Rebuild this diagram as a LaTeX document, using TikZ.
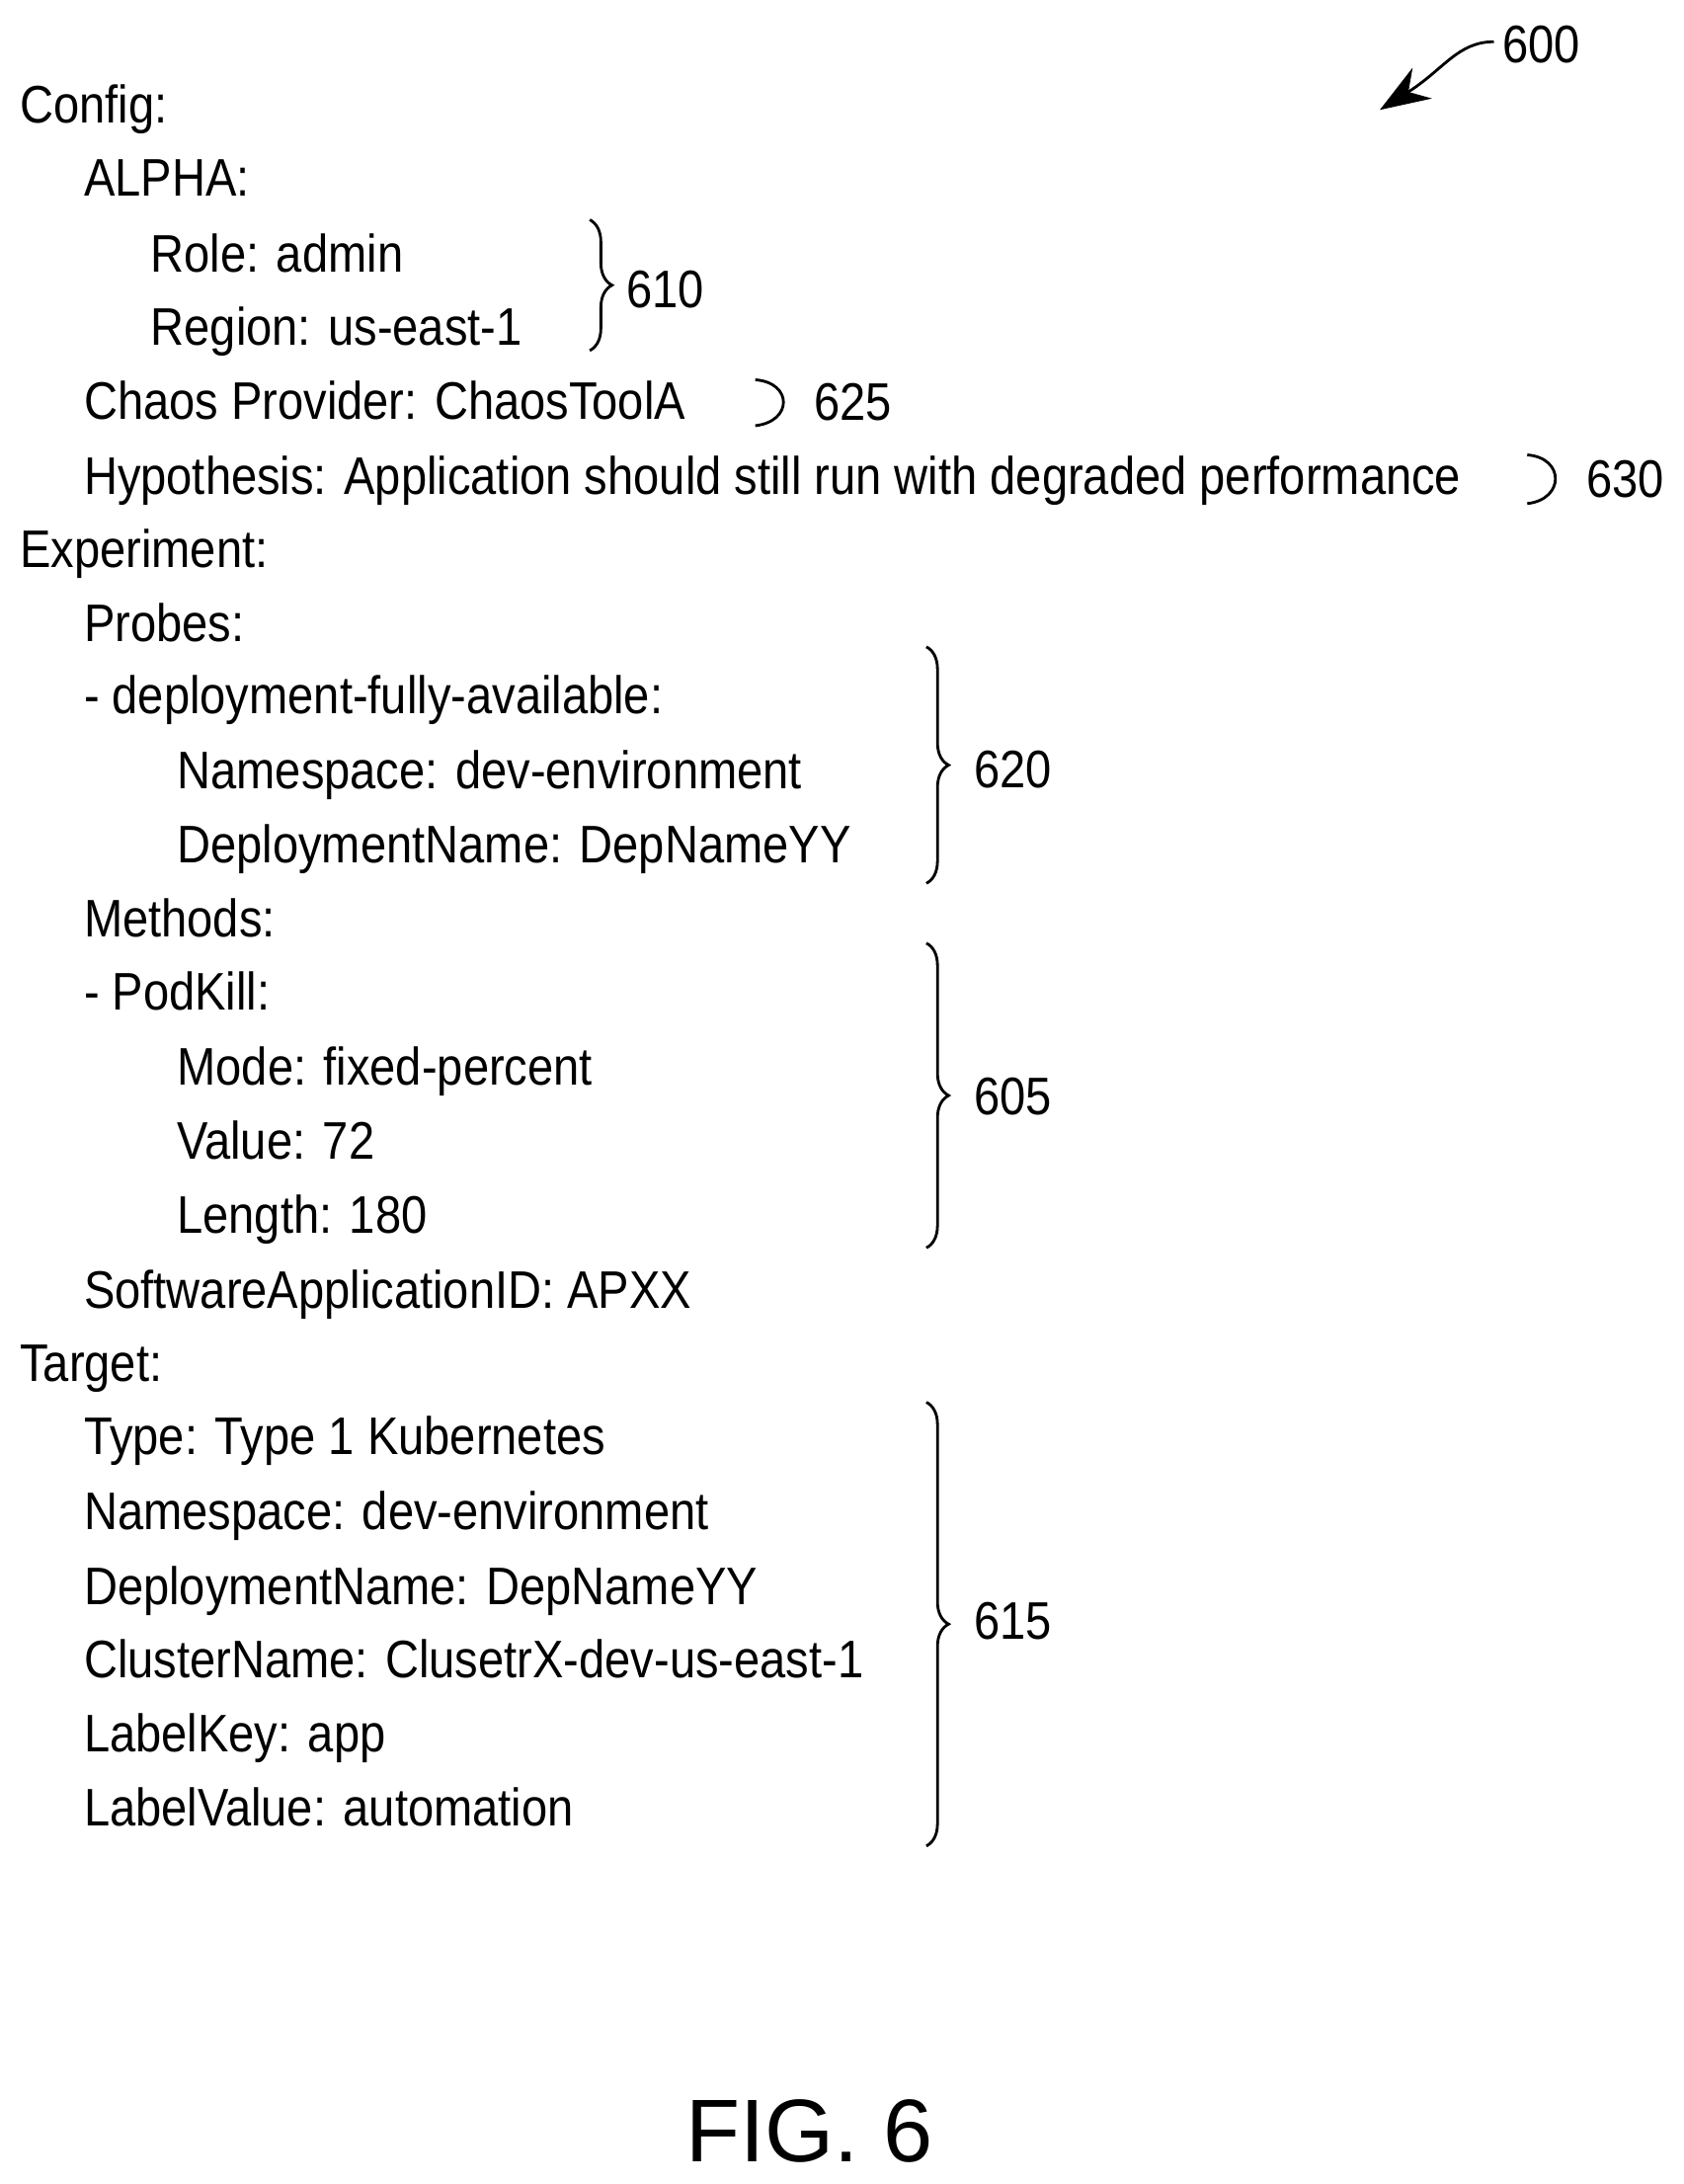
\documentclass[tikz,border=0pt]{standalone}
\usepackage{fontspec}
\setmainfont[FakeStretch=0.88]{Liberation Sans}
\newfontfamily\figfont{Liberation Sans}
\usetikzlibrary{decorations.pathreplacing,arrows.meta}
\begin{document}
\begin{tikzpicture}[x=0.5pt,y=-0.5pt,
  t/.style={anchor=mid west,inner sep=0pt,yshift=-4pt,font=\fontsize{19}{22}\selectfont},
  br/.style={decorate,decoration={brace,amplitude=8pt},line width=1pt},
  ln/.style={line width=1pt}]
\useasboundingbox (0,0) rectangle (1210,1570);
\node[t] (l1) at (14,75) {Config:};
\node[t] (l2) at (60,128) {ALPHA:};
\node[t] (l3) at (108,182) {Role: admin};
\node[t] (l4) at (108,235) {Region: us-east-1};
\node[t] (l5) at (60,288) {Chaos Provider: ChaosToolA};
\node[t] (l6) at (60,342) {Hypothesis: Application should still run with degraded performance};
\node[t] (l7) at (14,395) {Experiment:};
\node[t] (l8) at (60,448) {Probes:};
\node[t] (l9) at (60,500) {- deployment-fully-available:};
\node[t] (l10) at (127,554) {Namespace: dev-environment};
\node[t] (l11) at (127,607) {DeploymentName: DepNameYY};
\node[t] (l12) at (60,660) {Methods:};
\node[t] (l13) at (60,713) {- PodKill:};
\node[t] (l14) at (127,767) {Mode: fixed-percent};
\node[t] (l15) at (127,820) {Value: 72};
\node[t] (l16) at (127,873) {Length: 180};
\node[t] (l17) at (60,927) {SoftwareApplicationID: APXX};
\node[t] (l18) at (14,980) {Target:};
\node[t] (l19) at (60,1032) {Type: Type 1 Kubernetes};
\node[t] (l20) at (60,1086) {Namespace: dev-environment};
\node[t] (l21) at (60,1140) {DeploymentName: DepNameYY};
\node[t] (l22) at (60,1193) {ClusterName: ClusetrX-dev-us-east-1};
\node[t] (l23) at (60,1246) {LabelKey: app};
\node[t] (l24) at (60,1299) {LabelValue: automation};
% braces
\draw[br] (424,158) -- (424,252);
\node[t] (n610) at (450,208) {610};
\draw[br] (666,465) -- (666,635);
\node[t] (n620) at (700,553) {620};
\draw[br] (666,678) -- (666,897);
\node[t] (n605) at (700,788) {605};
\draw[br] (666,1008) -- (666,1327);
\node[t] (n615) at (700,1165) {615};
% small parens
\draw[ln] (543,273) .. controls (570,275) and (570,303) .. (543,306);
\node[t] (n625) at (585,289) {625};
\draw[ln] (1098,327) .. controls (1125,329) and (1125,359) .. (1098,362);
\node[t] (n630) at (1140,344) {630};
% 600
\node[t] (n600) at (1080,32) {600};
\coordinate (a0) at (1074,30);
\coordinate (a1) at (992,79);
\draw[ln,-{Stealth[length=18pt,width=13pt]}] (a0) .. controls (1048,30) and (1038,50) .. (a1);
\node[font=\figfont\fontsize{32}{36}\selectfont] (fig) at (582,1532) {FIG. 6};
\end{tikzpicture}
\end{document}
